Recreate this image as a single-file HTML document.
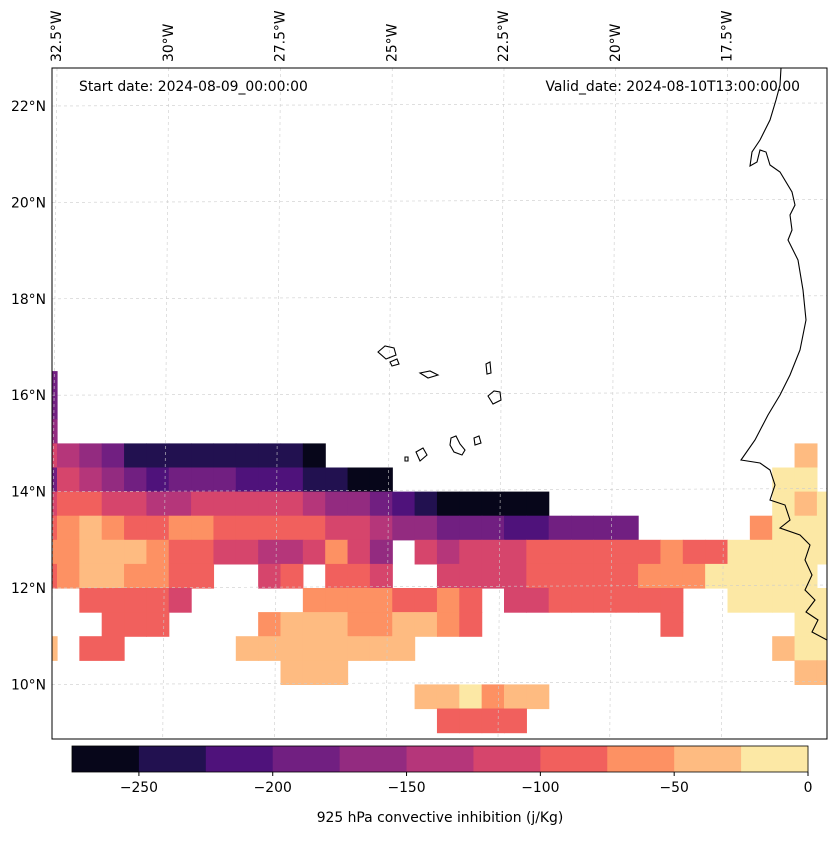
<!DOCTYPE html>
<html><head><meta charset="utf-8">
<style>
body{margin:0;background:#fff;}
svg text{font-family:"DejaVu Sans","Liberation Sans",sans-serif;}
</style></head>
<body>
<svg id="chart" width="837" height="836" viewBox="0 0 837 836" xmlns="http://www.w3.org/2000/svg">
<defs><clipPath id="mapclip"><rect x="52" y="68" width="775" height="671"/></clipPath></defs>
<rect x="0" y="0" width="837" height="836" fill="#fff"/>
<g id="field" clip-path="url(#mapclip)"></g>
<g id="grid" clip-path="url(#mapclip)"></g>
<g id="coast" clip-path="url(#mapclip)" fill="none" stroke="#000" stroke-width="1.1">
<path d="M781,68 L780,85 L776,100 L770,120 L760,140 L752,152 L750,166 L757,162 L760,150 L766,152 L770,165 L780,172 L792,192 L795,205 L790,215 L792,230 L788,240 L798,260 L803,290 L806,320 L800,350 L790,375 L780,395 L768,415 L755,440 L741,460 L760,463 L770,470 L775,485 L770,500 L785,505 L790,520 L780,528 L800,535 L810,545 L805,560 L812,575 L805,590 L815,600 L806,612 L818,620 L812,632 L827,640"/>
<path d="M378,352 L385,346 L394,348 L396,355 L386,359 Z"/>
<path d="M390,362 L397,359 L399,364 L392,366 Z"/>
<path d="M420,373 L430,371 L438,375 L428,378 Z"/>
<path d="M486,364 L490,362 L491,373 L487,374 Z"/>
<path d="M488,396 L494,391 L500,392 L501,400 L493,404 Z"/>
<path d="M416,452 L423,448 L427,455 L420,461 Z"/>
<path d="M451,438 L456,436 L460,444 L465,450 L462,455 L454,452 L450,445 Z"/>
<path d="M474,438 L479,436 L481,443 L475,445 Z"/>
<path d="M405,457 L408,457 L408,461 L405,461 Z"/>
</g>
<rect x="52" y="68" width="775" height="671" fill="none" stroke="#000" stroke-width="1"/>
<text x="79" y="91" font-size="13.9">Start date: 2024-08-09_00:00:00</text>
<text x="800" y="91" font-size="13.9" text-anchor="end">Valid_date: 2024-08-10T13:00:00.00</text>
<g id="lonlabels"></g>
<g id="latlabels"></g>
<g id="cbar"></g>
<text x="440" y="822" font-size="13.9" text-anchor="middle">925 hPa convective inhibition (j/Kg)</text>
</svg>
<script>
const levels=[-275,-250,-225,-200,-175,-150,-125,-100,-75,-50,-25,0];
const colors=["#07061a","#221150","#4f127b","#711f81","#932b80","#b5367a","#d6456c","#f1605d","#fd9163","#febb81","#fce8a5"];
const cbTicks=[-250,-200,-150,-100,-50,0];
const lonTicks=[-32.5,-30,-27.5,-25,-22.5,-20,-17.5];
const latTicks=[22,20,18,16,14,12,10];
const gridLon0=-33, gridLat0=16.5, cellDeg=0.5;
// level index per 0.5° cell ('.' = no data), rows from north to south
const fieldRows=[
"3",
"3",
"4",
"6543111111110.....................9",
"3654323332221100.................aa",
"67766556666654432100000..........a9a",
"789877887777766544333223333.....8aaa",
"8899987766556864.65666777777877aaaaa",
"78998877..67.776..666677777888aaaaa",
"..77776.....88887787.66777777..aaaaa",
"...777....8999889987........7.....aa",
"9.77.....99999999................9aa",
"...........999....................99",
".................99a899",
"..................7777"
];
const fieldValues=fieldRows.map(r=>r.padEnd(36,'.').split('').map(c=>c==='.'?null:levels[0]+25*parseInt(c,16)+12.5));

const NS="http://www.w3.org/2000/svg";
function xLon(lon){return 57+(lon+32.5)*44.7;}
function yLat(lat){return 106+(22-lat)*48.2;}
function colorFor(v){for(let i=0;i<colors.length;i++){if(v<levels[i+1])return colors[i];}return colors[colors.length-1];}
function mk(tag,attrs,parent){const e=document.createElementNS(NS,tag);for(const k in attrs)e.setAttribute(k,attrs[k]);parent.appendChild(e);return e;}

const field=document.getElementById('field');
fieldValues.forEach((row,ri)=>{row.forEach((v,ci)=>{
  if(v===null)return;
  const lon=gridLon0+ci*cellDeg, lat=gridLat0-ri*cellDeg;
  const x0=xLon(lon), x1=xLon(lon+cellDeg), y0=yLat(lat), y1=yLat(lat-cellDeg);
  const r=mk('rect',{x:x0,y:y0,width:x1-x0+0.6,height:y1-y0+0.6,fill:colorFor(v)},field);
  
  
});});

const grid=document.getElementById('grid');
lonTicks.forEach(l=>{const ln=mk('line',{x1:xLon(l),y1:68,x2:xLon(l)-6,y2:739,stroke:'#ccc','stroke-width':0.6,'stroke-dasharray':'3,3'},grid);
});
latTicks.forEach(l=>{const ln=mk('line',{x1:52,y1:yLat(l),x2:827,y2:yLat(l)-3,stroke:'#ccc','stroke-width':0.6,'stroke-dasharray':'3,3'},grid);
});

const lonG=document.getElementById('lonlabels');
lonTicks.forEach(l=>{const x=xLon(l)+4;const t=mk('text',{x:0,y:0,'font-size':13.9,transform:`translate(${x},62) rotate(-90)`},lonG);
t.textContent=(-l)+'°W';});
const latG=document.getElementById('latlabels');
latTicks.forEach(l=>{const t=mk('text',{x:46,y:yLat(l)+5,'font-size':13.9,'text-anchor':'end'},latG);
t.textContent=l+'°N';});

const cb=document.getElementById('cbar');
function xCb(v){return 72+(v-levels[0])*(736/(levels[levels.length-1]-levels[0]));}
colors.forEach((c,i)=>{const r=mk('rect',{x:xCb(levels[i]),y:746,width:xCb(levels[i+1])-xCb(levels[i])+0.5,height:26,fill:c},cb);
});
mk('rect',{x:72,y:746,width:736,height:26,fill:'none',stroke:'#000','stroke-width':0.8},cb);
cbTicks.forEach(v=>{const x=xCb(v);mk('line',{x1:x,y1:772,x2:x,y2:776,stroke:'#000'},cb);
const t=mk('text',{x:x,y:792,'font-size':13.9,'text-anchor':'middle'},cb);t.textContent=v<0?'\u2212'+(-v):String(v);
});
</script>
</body></html>
